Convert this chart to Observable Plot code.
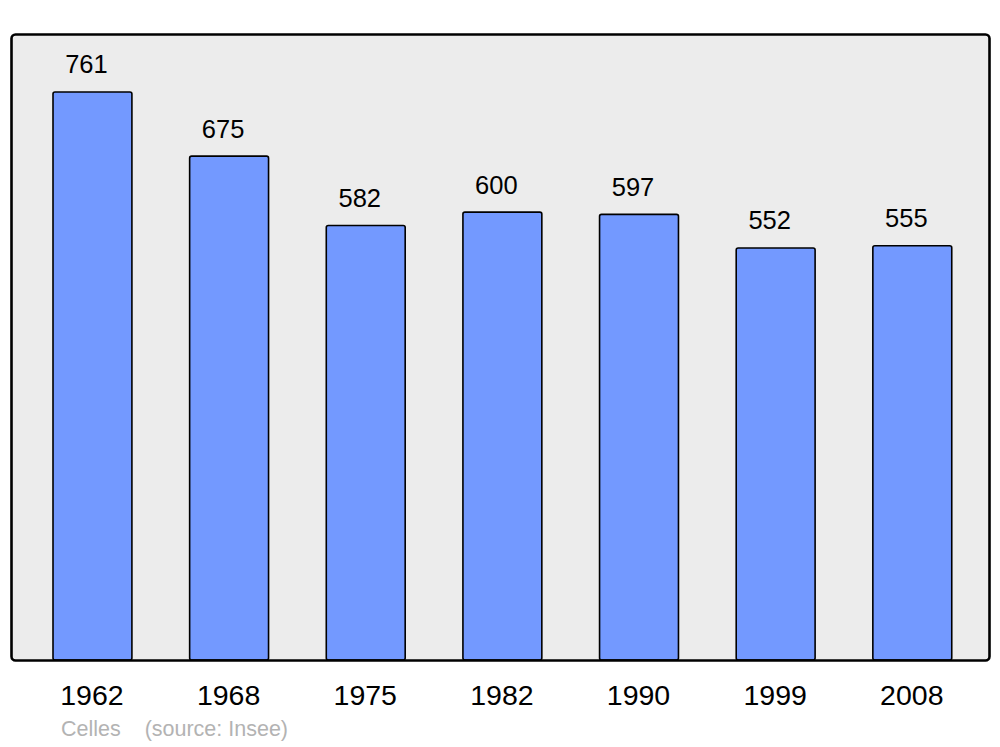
<!DOCTYPE html>
<html>
<head>
<meta charset="utf-8">
<script src="https://cdn.jsdelivr.net/npm/d3@7"></script>
<script src="https://cdn.jsdelivr.net/npm/@observablehq/plot@0.6"></script>
<style>
  html, body { margin: 0; padding: 0; background: #ffffff; }
  body { width: 1000px; height: 747px; overflow: hidden; font-family: "Liberation Sans", Arial, sans-serif; }
  #chart svg { display: block; }
  #caption { font-family: "Liberation Sans", Arial, sans-serif; font-size: 21.5px; line-height: 24px; color: #b3b3b3; padding-left: 61px; margin-top: 5px; white-space: pre; }
</style>
</head>
<body>
<div id="chart"></div>
<div id="caption"></div>
<script>
const years = ["1962", "1968", "1975", "1982", "1990", "1999", "2008"];
const population = [761, 675, 582, 600, 597, 552, 555];
const captionText = "Celles    (source: Insee)";

const data = years.map((y, i) => ({year: y, pop: population[i]}));
const yMax = d3.max(population) * 1.102;

const chart = Plot.plot({
  width: 1000,
  height: 712,
  marginLeft: 11,
  marginRight: 11,
  marginTop: 34,
  marginBottom: 52,
  style: {fontFamily: "'Liberation Sans', Arial, sans-serif", background: "transparent", overflow: "visible"},
  x: {domain: years, paddingInner: 0.4225, paddingOuter: 0.29, align: 0.53, round: false, label: null},
  y: {domain: [0, yMax], axis: null},
  marks: [
    Plot.frame({fill: "#ececec", stroke: "none", rx: 4}),
    Plot.barY(data, {x: "year", y: "pop", fill: "#7399ff", stroke: "#000", strokeWidth: 1.6, rx: 2}),
    Plot.text(data, {x: "year", y: "pop", text: d => String(d.pop), dx: -6.5, dy: -19, lineAnchor: "bottom", fontSize: 25.5, fill: "#000"}),
    Plot.frame({fill: "none", stroke: "#000", strokeWidth: 2.6, rx: 4}),
    Plot.axisX({tickSize: 0, tickPadding: 24, fontSize: 28.5, dx: -1, color: "#000", label: null})
  ]
});
document.getElementById("chart").appendChild(chart);
document.getElementById("caption").textContent = captionText;
</script>
</body>
</html>
